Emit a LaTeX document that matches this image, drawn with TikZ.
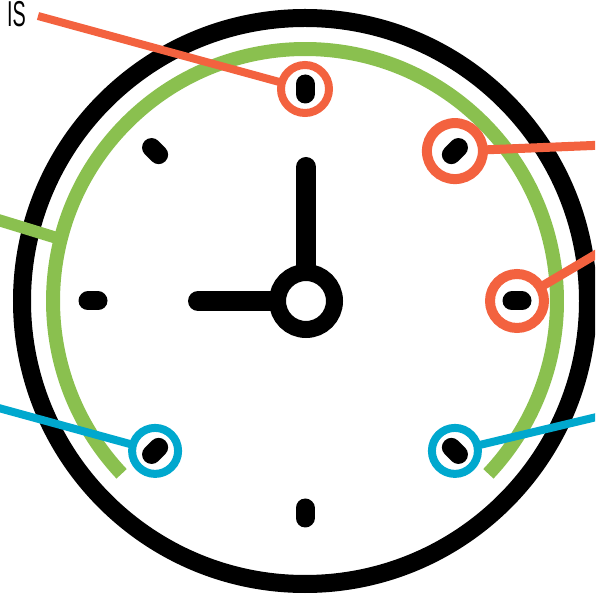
\documentclass[tikz,border=0pt]{standalone}
\usepackage{fontspec}
\usepackage{graphicx}
\newfontfamily\labelfont{Liberation Sans}
\usetikzlibrary{calc}
\definecolor{clockorange}{RGB}{243,98,63}
\definecolor{clockgreen}{RGB}{138,192,79}
\definecolor{clockblue}{RGB}{0,168,206}
\tikzset{
  tickmark/.style={line width=19, line cap=round},
  ring/.style={circle, draw=#1, fill=none, inner sep=0pt, outer sep=0pt},
  lead/.style={draw=#1, line width=9}
}
\begin{document}
\begin{tikzpicture}[x=1pt, y=1pt]
	\useasboundingbox (0,0) rectangle (595,600);
	\clip (0,0) rectangle (595,600);
	\coordinate (c) at (305,299);
	
	% outer rim and green arc
	\draw[line width=18] (c) circle (283);
	\draw[clockgreen, line width=14] ($(c)+(-43.3:252)$) arc (-43.3:223.3:252);
	
	% hour marks
	\foreach \a in {0,45,...,315}
		\draw[tickmark] ($(c)+(\a:207)$) -- ($(c)+(\a:217)$);
	
	% hands and hub
	\draw[line width=20, line cap=round] (198,299) -- (306,299);
	\draw[line width=20, line cap=round] (306,433) -- (306,299);
	\draw[line width=17, fill=white] (306,299) circle (28.5);
	
	% highlighted marks
	\node[ring=clockorange, line width=8, minimum size=48] (m90) at ($(c)+(90:212)$) {};
	\node[ring=clockorange, line width=10, minimum size=56] (m45) at ($(c)+(45:212)$) {};
	\node[ring=clockorange, line width=10, minimum size=54] (m0) at ($(c)+(0:212)$) {};
	\node[ring=clockblue, line width=8, minimum size=46] (m225) at ($(c)+(225:212)$) {};
	\node[ring=clockblue, line width=8, minimum size=46] (m315) at ($(c)+(315:212)$) {};
	
	% leader lines
	\coordinate (p90) at (38,584);
	\coordinate (p45) at (605,455);
	\coordinate (p0) at (605,351);
	\coordinate (pg) at (-5,381);
	\coordinate (ag) at ($(c)+(165.8:252)$);
	\coordinate (p225) at (-5,193);
	\coordinate (p315) at (605,185);
	\draw[lead=clockorange, line width=8] (p90) -- (m90);
	\draw[lead=clockorange] (m45) -- (p45);
	\draw[lead=clockorange] (m0) -- (p0);
	\draw[lead=clockgreen, line width=12] (pg) -- (ag);
	\draw[lead=clockblue, line width=8] (p225) -- (m225);
	\draw[lead=clockblue, line width=8] (m315) -- (p315);
	
	\node[anchor=base east, inner sep=0pt] (lbl) at (26,573) {\scalebox{0.55}[1]{\labelfont\fontsize{36}{36}\selectfont IS}};
\end{tikzpicture}
\end{document}
